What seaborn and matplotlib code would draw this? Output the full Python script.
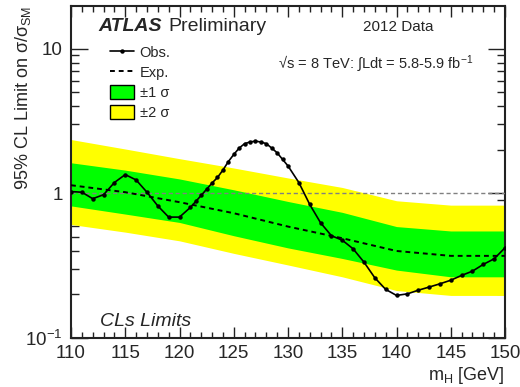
import matplotlib
matplotlib.use("Agg")
import matplotlib.pyplot as plt
import matplotlib.ticker as mticker
from matplotlib.lines import Line2D
from matplotlib.patches import Patch
import seaborn as sns
import pandas as pd

# ---------------- data ----------------
obs_mass = [110, 111, 112, 113, 114, 115, 116, 117, 118, 119, 120, 121, 121.5, 122,
            122.5, 123, 123.5, 124, 124.5, 125, 125.5, 126, 126.5, 127, 127.5, 128,
            128.5, 129, 129.5, 130, 131, 132, 133, 134, 135, 136, 137, 138, 139, 140,
            141, 142, 143, 144, 145, 146, 147, 148, 149, 150]
obs_limit = [1.03, 1.02, 0.92, 0.98, 1.19, 1.35, 1.24, 1.02, 0.82, 0.686, 0.686, 0.80,
             0.88, 0.97, 1.07, 1.18, 1.29, 1.45, 1.66, 1.86, 2.06, 2.21, 2.27, 2.30,
             2.27, 2.21, 2.06, 1.91, 1.72, 1.55, 1.19, 0.84, 0.627, 0.51, 0.475, 0.414,
             0.335, 0.261, 0.217, 0.197, 0.202, 0.214, 0.225, 0.237, 0.251, 0.271,
             0.29, 0.323, 0.353, 0.421]

exp_mass = [110, 115, 120, 125, 130, 135, 140, 145, 150]
exp_limit = [1.14, 1.02, 0.87, 0.73, 0.59, 0.49, 0.40, 0.37, 0.37]
exp_p1 = [1.63, 1.45, 1.26, 1.06, 0.88, 0.74, 0.59, 0.55, 0.55]
exp_m1 = [0.82, 0.72, 0.63, 0.51, 0.42, 0.355, 0.295, 0.265, 0.265]
exp_p2 = [2.36, 2.03, 1.74, 1.50, 1.28, 1.10, 0.89, 0.83, 0.83]
exp_m2 = [0.61, 0.54, 0.47, 0.385, 0.32, 0.265, 0.213, 0.197, 0.197]

ytick_vals = [0.1, 1, 10]
ytick_labels = ["10$^{-1}$", "1", "10"]
xtick_vals = [110, 115, 120, 125, 130, 135, 140, 145, 150]

# ---------------- style ----------------
sns.set_theme(style="ticks")
plt.rcParams["font.family"] = ["Liberation Sans", "DejaVu Sans"]
plt.rcParams["mathtext.fontset"] = "custom"
plt.rcParams["mathtext.rm"] = "Liberation Sans"
plt.rcParams["mathtext.it"] = "Liberation Sans:italic"
plt.rcParams["mathtext.bf"] = "Liberation Sans:bold"

fig = plt.figure(figsize=(5.2, 3.87), dpi=100)
ax = fig.add_axes([71 / 520, 1 - 338 / 387, 434 / 520, 332 / 387])

ax.fill_between(exp_mass, exp_m2, exp_p2, color="#FFFF00", linewidth=0, zorder=1)
ax.fill_between(exp_mass, exp_m1, exp_p1, color="#00FF00", linewidth=0, zorder=2)
ax.axhline(1.0, color="#808080", lw=1.0, ls=(0, (3, 2)), zorder=3)

df_exp = pd.DataFrame({"m": exp_mass, "lim": exp_limit})
df_obs = pd.DataFrame({"m": obs_mass, "lim": obs_limit})
sns.lineplot(data=df_exp, x="m", y="lim", ax=ax, color="black", lw=1.4,
             linestyle=(0, (2.5, 2.0)), estimator=None, sort=False, zorder=4)
sns.lineplot(data=df_obs, x="m", y="lim", ax=ax, color="black", lw=1.2,
             marker="o", markersize=3.2, markeredgewidth=0, estimator=None,
             sort=False, zorder=5)

ax.set_yscale("log")
ax.set_xlim(110, 150)
ax.set_ylim(0.1, 19.8)

ax.yaxis.set_major_locator(mticker.FixedLocator(ytick_vals))
ax.yaxis.set_major_formatter(mticker.FixedFormatter(ytick_labels))
ax.yaxis.set_minor_locator(mticker.LogLocator(base=10, subs=range(2, 10), numticks=20))
ax.yaxis.set_minor_formatter(mticker.NullFormatter())
ax.xaxis.set_major_locator(mticker.FixedLocator(xtick_vals))
ax.xaxis.set_minor_locator(mticker.MultipleLocator(1))

ax.tick_params(which="both", direction="in", top=True, right=True,
               color="#222222", width=1.0)
ax.tick_params(axis="x", which="major", length=8, labelsize=13.5, pad=5)
ax.tick_params(axis="x", which="minor", length=4)
ax.tick_params(axis="y", which="major", length=12, labelsize=13.5, pad=6)
ax.tick_params(axis="y", which="minor", length=6)
for s in ax.spines.values():
    s.set_linewidth(1.5)
    s.set_color("#222222")

ax.set_xlabel("m$_{\\mathrm{H}}$ [GeV]", fontsize=13, loc="right")
ax.xaxis.set_label_coords(1.0, -0.08)
ax.set_ylabel("95% CL Limit on σ/σ$_{\\mathrm{SM}}$", fontsize=13, loc="top")
ax.yaxis.set_label_coords(-0.088, 1.0)

# ---------------- texts ----------------
ax.text(0.064, 0.926, "ATLAS", transform=ax.transAxes, fontsize=14,
        fontweight="bold", fontstyle="italic")
ax.text(0.224, 0.926, "Preliminary", transform=ax.transAxes, fontsize=14)
ax.text(0.673, 0.926, "2012 Data", transform=ax.transAxes, fontsize=11)
ax.text(0.478, 0.813, "√s = 8 TeV: ∫Ldt = 5.8-5.9 fb$^{-1}$", transform=ax.transAxes,
        fontsize=10.5)
ax.text(0.067, 0.036, "CLs Limits", transform=ax.transAxes, fontsize=14,
        fontstyle="italic")

handles = [
    Line2D([], [], color="black", lw=1.2, marker="o", markersize=3.2,
           markeredgewidth=0),
    Line2D([], [], color="black", lw=1.4, linestyle=(0, (2.5, 2.0))),
    Patch(facecolor="#00FF00", edgecolor="black", linewidth=1.0),
    Patch(facecolor="#FFFF00", edgecolor="black", linewidth=1.0),
]
labels = ["Obs.", "Exp.", "±1 σ", "±2 σ"]
ax.legend(handles, labels, loc="upper left", bbox_to_anchor=(0.091, 0.883),
          frameon=False, fontsize=10.5, handlelength=1.6, handleheight=1.1,
          handletextpad=0.4, labelspacing=0.35, borderaxespad=0, borderpad=0)

fig.savefig("out.png", dpi=100)
